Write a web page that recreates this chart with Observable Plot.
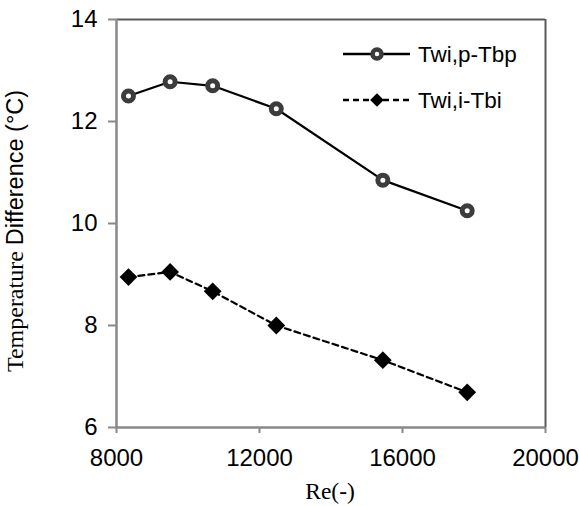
<!DOCTYPE html>
<html>
<head>
<meta charset="utf-8">
<script src="https://cdn.jsdelivr.net/npm/d3@7"></script>
<script src="https://cdn.jsdelivr.net/npm/@observablehq/plot@0.6"></script>
<style>
  html, body { margin: 0; padding: 0; background: #fff; }
  #wrap { position: relative; width: 579px; height: 506px; }
  #overlay { position: absolute; left: 0; top: 0; pointer-events: none; }
</style>
</head>
<body>
<div id="wrap"></div>
<script>
// ---- data ----
const reynolds = [8335, 9500, 10690, 12470, 15450, 17810];
const tPeak = [12.50, 12.78, 12.70, 12.25, 10.85, 10.25];   // Twi,p-Tbp
const tInlet = [8.95, 9.05, 8.67, 8.00, 7.32, 6.69];        // Twi,i-Tbi
const seriesNames = ["Twi,p-Tbp", "Twi,i-Tbi"];
const xTicks = [8000, 12000, 16000, 20000];
const yTicks = [6, 8, 10, 12, 14];
const xTitle = "Re(-)";
const yTitleSerif = "Temperature";
const yTitleSans = "Difference (°C)";

const rowsP = reynolds.map((x, i) => ({x, y: tPeak[i]}));
const rowsI = reynolds.map((x, i) => ({x, y: tInlet[i]}));
const xDom = [xTicks[0], xTicks[xTicks.length - 1]];
const yDom = [yTicks[0], yTicks[yTicks.length - 1]];

const axisGray = "#898989";
const frameDark = "#5a5a5a";

const plot = Plot.plot({
  width: 579,
  height: 506,
  marginLeft: 116,
  marginRight: 34,
  marginTop: 19,
  marginBottom: 79,
  style: {fontFamily: "'Liberation Sans', Arial, sans-serif", fontSize: "24px", color: "#000", background: "#fff"},
  x: {domain: xDom, ticks: xTicks},
  y: {domain: yDom, ticks: yTicks},
  marks: [
    Plot.axisX({ticks: xTicks, tickSize: 6, tickPadding: 15, stroke: axisGray, strokeWidth: 2, fill: "#000", tickFormat: d => String(d), label: null}),
    Plot.axisY({ticks: yTicks, tickSize: 8, tickPadding: 11, stroke: axisGray, strokeWidth: 2, fill: "#000", label: null}),
    Plot.ruleY([yDom[1]], {stroke: frameDark, strokeWidth: 2}),
    Plot.ruleX([xDom[1]], {stroke: frameDark, strokeWidth: 2}),
    Plot.ruleY([yDom[0]], {stroke: axisGray, strokeWidth: 2.5}),
    Plot.ruleX([xDom[0]], {stroke: axisGray, strokeWidth: 2.5}),
    Plot.line(rowsP, {x: "x", y: "y", stroke: "#000", strokeWidth: 2.2}),
    Plot.line(rowsI, {x: "x", y: "y", stroke: "#000", strokeWidth: 2.2, strokeDasharray: "6,4"}),
    Plot.dot(rowsP, {x: "x", y: "y", r: 5, stroke: "#3c3c3c", strokeWidth: 5, fill: "#fff"}),
    Plot.dot(rowsI, {x: "x", y: "y", r: 8, symbol: "diamond2", fill: "#000", stroke: "none"})
  ]
});
document.getElementById("wrap").appendChild(plot);

// ---- overlay: legend + axis titles ----
const ns = "http://www.w3.org/2000/svg";
const ov = d3.select("#wrap").append("svg")
  .attr("id", "overlay").attr("xmlns", ns)
  .attr("width", 579).attr("height", 506);

// y title (mixed fonts)
const yt = ov.append("text")
  .attr("transform", "translate(23,231) rotate(-90)")
  .attr("text-anchor", "middle")
  .attr("fill", "#000");
yt.append("tspan").attr("font-family", "'Liberation Serif', 'Times New Roman', serif").attr("font-size", 24).text(yTitleSerif + " ");
yt.append("tspan").attr("font-family", "'Liberation Sans', Arial, sans-serif").attr("font-size", 23.5).text(yTitleSans);

// x title
ov.append("text")
  .attr("x", 330).attr("y", 499)
  .attr("text-anchor", "middle")
  .attr("font-family", "'Liberation Serif', 'Times New Roman', serif")
  .attr("font-size", 23.5).attr("fill", "#000")
  .text(xTitle);

// legend
const lg = ov.append("g");
const rowsY = [54, 100];
// row 1
lg.append("line").attr("x1", 343).attr("x2", 410).attr("y1", rowsY[0]).attr("y2", rowsY[0]).attr("stroke", "#000").attr("stroke-width", 2.5);
lg.append("circle").attr("cx", 377).attr("cy", rowsY[0]).attr("r", 4.5).attr("fill", "#fff").attr("stroke", "#3c3c3c").attr("stroke-width", 4.5);
lg.append("text").attr("x", 418).attr("y", rowsY[0] + 8).attr("font-family", "'Liberation Sans', Arial, sans-serif").attr("font-size", 22.5).attr("fill", "#000").text(seriesNames[0]);
// row 2
lg.append("line").attr("x1", 343).attr("x2", 410).attr("y1", rowsY[1]).attr("y2", rowsY[1]).attr("stroke", "#000").attr("stroke-width", 2.5).attr("stroke-dasharray", "6,4");
lg.append("path").attr("d", d3.symbol(d3.symbolDiamond2, 120)()).attr("transform", `translate(377,${rowsY[1]})`).attr("fill", "#000");
lg.append("text").attr("x", 418).attr("y", rowsY[1] + 8).attr("font-family", "'Liberation Sans', Arial, sans-serif").attr("font-size", 22.5).attr("fill", "#000").text(seriesNames[1]);
</script>
</body>
</html>
